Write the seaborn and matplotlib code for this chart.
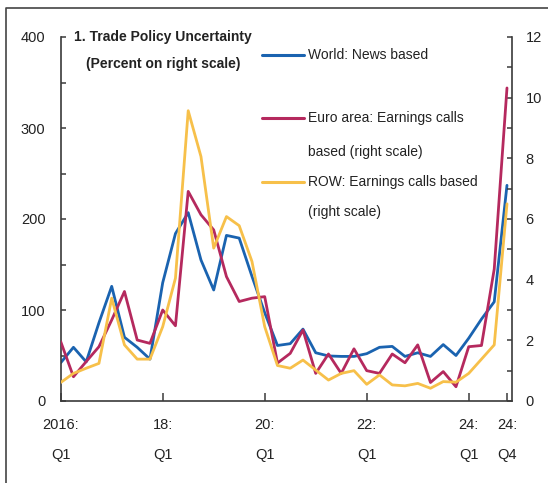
import matplotlib
matplotlib.use("Agg")
import matplotlib.pyplot as plt
from matplotlib.lines import Line2D
import seaborn as sns
import pandas as pd

# ---- data -------------------------------------------------------------
quarters = [f"{y}Q{q}" for y in range(2016, 2025) for q in range(1, 5)]
world_news = [42, 59, 43, 86, 126, 70, 59, 46, 130, 184, 207, 155, 122, 182, 179, 137,
              97, 61, 63, 79, 53, 49.5, 49, 49, 52, 59, 60, 49, 53, 49, 62, 50,
              69, 90, 109, 237]
euro_calls = [1.96, 0.80, 1.30, 1.79, 2.67, 3.61, 2.01, 1.90, 3.0, 2.48, 6.91, 6.14,
              5.64, 4.10, 3.28, 3.39, 3.44, 1.25, 1.57, 2.34, 0.91, 1.55, 0.91, 1.72,
              1.0, 0.91, 1.55, 1.26, 1.85, 0.61, 0.97, 0.47, 1.79, 1.83, 4.35, 10.32]
row_calls = [0.61, 0.91, 1.08, 1.24, 3.39, 1.85, 1.38, 1.38, 2.45, 4.05, 9.57, 8.06,
             5.04, 6.08, 5.78, 4.60, 2.45, 1.17, 1.08, 1.35, 1.02, 0.69, 0.91, 1.0,
             0.55, 0.86, 0.53, 0.50, 0.58, 0.42, 0.64, 0.62, 0.91, 1.38, 1.85, 6.5]
tick_pos = [0, 8, 16, 24, 32, 35]
tick_labels = ["2016:\nQ1", "18:\nQ1", "20:\nQ1", "22:\nQ1", "24:\nQ1", "24:\nQ4"]
legend_labels = [["World: News based"],
                 ["Euro area: Earnings calls", "based (right scale)"],
                 ["ROW: Earnings calls based", "(right scale)"]]
title_lines = ["1. Trade Policy Uncertainty", "(Percent on right scale)"]

df = pd.DataFrame({"idx": range(len(quarters)), "quarter": quarters,
                   "world": world_news, "euro": euro_calls, "row": row_calls})

# ---- style ------------------------------------------------------------
sns.set_theme(style="white")
plt.rcParams["font.family"] = ["Liberation Sans", "DejaVu Sans"]
BLUE, RED, YELLOW = "#1a63b0", "#b5295e", "#f7c04a"
SPINE = "#3a3a3a"
TXT = "#222222"
FS_TICK = 10.5
FS_TXT = 10
W, H = 548, 483

fig = plt.figure(figsize=(5.48, 4.83), dpi=100)
ax = fig.add_axes([60.7 / W, 82 / H, 451 / W, 364 / H])
ax2 = ax.twinx()

sns.lineplot(data=df, x="idx", y="world", ax=ax, color=BLUE, lw=2.0, legend=False)
sns.lineplot(data=df, x="idx", y="euro", ax=ax2, color=RED, lw=2.0, legend=False)
sns.lineplot(data=df, x="idx", y="row", ax=ax2, color=YELLOW, lw=2.0, legend=False)

ax.set_xlim(0, 35.37)
ax.set_ylim(0, 400)
ax2.set_ylim(0, 12)
ax.set_xlabel("")
ax.set_ylabel("")
ax2.set_ylabel("")

for a in (ax, ax2):
    a.patch.set_visible(False)
    a.grid(False)
    for s in a.spines.values():
        s.set_color(SPINE)
        s.set_linewidth(1.2)
    a.spines["top"].set_visible(False)
ax.spines["right"].set_visible(False)
ax2.spines["left"].set_visible(False)
ax2.spines["bottom"].set_visible(False)

ax.set_yticks([0, 100, 200, 300, 400])
ax.set_yticks([50, 150, 250, 350], minor=True)
ax2.set_yticks([0, 2, 4, 6, 8, 10, 12])
ax2.set_yticks([1, 3, 5, 7, 9, 11], minor=True)
ax.set_xticks(tick_pos)
ax.set_xticklabels(tick_labels, fontsize=FS_TICK, color=TXT, linespacing=2.5)
ax.xaxis.get_major_ticks()[-1].tick1line.set_visible(False)

ax.tick_params(axis="y", which="both", direction="in", length=3.5, width=1.1,
               color=SPINE, labelsize=FS_TICK, labelcolor=TXT, pad=11, left=True)
ax.tick_params(axis="x", which="major", direction="in", length=5.5, width=1.1,
               color=SPINE, pad=12, bottom=True)
ax2.tick_params(axis="y", which="both", direction="in", length=3.5, width=1.1,
                color=SPINE, labelsize=FS_TICK, labelcolor=TXT, pad=10, right=True)

# ---- title and legend -------------------------------------------------
for line, y in zip(title_lines, [37, 64]):
    fig.text(163 / W, 1 - y / H, line, ha="center", va="center",
             fontsize=FS_TXT, fontweight="bold", color=TXT)

colors = [BLUE, RED, YELLOW]
line_ys = [[55], [118, 152], [182, 212]]
for lines, c, ys in zip(legend_labels, colors, line_ys):
    yf = 1 - ys[0] / H
    fig.add_artist(Line2D([262 / W, 304 / W], [yf, yf], color=c, lw=2.2,
                          transform=fig.transFigure))
    for txt, y in zip(lines, ys):
        fig.text(308 / W, 1 - y / H, txt, ha="left", va="center", fontsize=FS_TXT,
                 color=TXT, transform=fig.transFigure)

# outer frame (top and left edges)
fig.add_artist(Line2D([6 / W, 6 / W, 1.0], [0.0, 1 - 7.5 / H, 1 - 7.5 / H],
                      color="#444444", lw=1.2, transform=fig.transFigure))

fig.savefig("out.png", dpi=100)
